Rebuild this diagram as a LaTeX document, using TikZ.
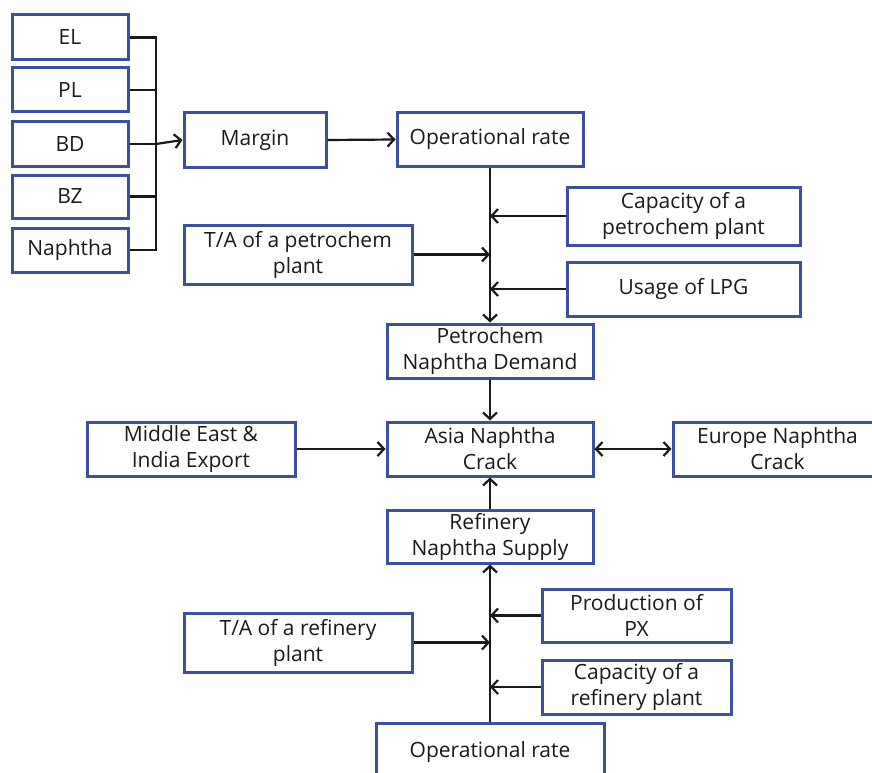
\documentclass[tikz,border=0pt]{standalone}
\usepackage{fontspec}
\setmainfont{Open Sans}
\usetikzlibrary{arrows.meta}
\definecolor{boxblue}{HTML}{3C4FA0}
\definecolor{ink}{HTML}{1A1A1A}
\tikzset{
  box/.style={draw=boxblue, line width=3pt, fill=white, rectangle, inner sep=0pt,
    align=center, text=ink, font=\fontsize{21}{26}\selectfont},
  link/.style={draw=ink, line width=2.2pt, -{Straight Barb[length=6.5pt,width=14pt,line width=2.2pt]}},
  wire/.style={draw=ink, line width=2.2pt},
  both/.style={draw=ink, line width=2.2pt, {Straight Barb[length=6.5pt,width=14pt,line width=2.2pt]}-{Straight Barb[length=6.5pt,width=14pt,line width=2.2pt]}}
}
\begin{document}
\begin{tikzpicture}[x=1pt,y=-1pt]
\useasboundingbox (0,0) rectangle (872,773);
\clip (0,0) rectangle (872,773);
\fill[white] (0,0) rectangle (872,773);

% price inputs
\node[box, minimum width=116pt, minimum height=45pt] (el) at (70,37.5) {EL};
\node[box, minimum width=116pt, minimum height=44pt] (pl) at (70,90) {PL};
\node[box, minimum width=116pt, minimum height=44pt] (bd) at (70,144) {BD};
\node[box, minimum width=116pt, minimum height=43pt] (bz) at (70,196.5) {BZ};
\node[box, minimum width=116pt, minimum height=44pt] (nap) at (70,250) {Naphtha};
\coordinate (bus) at (156,144);

% petrochem side
\node[box, minimum width=142pt, minimum height=54pt] (margin) at (255,140) {Margin};
\node[box, minimum width=186pt, minimum height=53pt] (op1) at (490,139.5) {Operational rate};
\node[box, minimum width=233pt, minimum height=58pt] (cappet) at (683.5,216) {Capacity of a\\petrochem plant};
\node[box, minimum width=228pt, minimum height=59pt] (tapet) at (298,254.5) {T/A of a petrochem\\plant};
\node[box, minimum width=233pt, minimum height=54pt] (lpg) at (683.5,289) {Usage of LPG};
\node[box, minimum width=206pt, minimum height=54pt] (dem) at (490,351) {Petrochem\\Naphtha Demand};

% crack spread row
\node[box, minimum width=208pt, minimum height=54pt] (me) at (191,449) {Middle East \&\\India Export};
\node[box, minimum width=206pt, minimum height=54pt] (asia) at (490,449) {Asia Naphtha\\Crack};
\node[box, minimum width=209pt, minimum height=54pt] (eu) at (777.5,449) {Europe Naphtha\\Crack};

% refinery side
\node[box, minimum width=206pt, minimum height=53pt] (sup) at (490,536.5) {Refinery\\Naphtha Supply};
\node[box, minimum width=189pt, minimum height=53pt] (px) at (636.5,615.5) {Production of\\PX};
\node[box, minimum width=228pt, minimum height=59pt] (taref) at (298,642.5) {T/A of a refinery\\plant};
\node[box, minimum width=189pt, minimum height=54pt] (capref) at (636.5,687) {Capacity of a\\refinery plant};
\node[box, minimum width=228pt, minimum height=58pt] (op2) at (490,752) {Operational rate};

% price bus into margin
\draw[wire] (el.east) -- (el.east -| bus) -- (nap.east -| bus) -- (nap.east);
\foreach \n in {pl,bd,bz} \draw[wire] (\n.east) -- (\n.east -| bus);
\draw[link] (bus) -- (margin.west);
\draw[link] (margin.east) -- (op1.west);

% petrochem demand trunk
\draw[link] (op1.south) -- (dem.north);
\draw[link] (cappet.west) -- (cappet.west -| op1.south);
\draw[link] (tapet.east) -- (tapet.east -| op1.south);
\draw[link] (lpg.west) -- (lpg.west -| op1.south);

% crack spread
\draw[link] (dem.south) -- (asia.north);
\draw[link] (me.east) -- (asia.west);
\draw[both] (asia.east) -- (eu.west);
\draw[link] (sup.north) -- (asia.south);

% refinery supply trunk
\draw[link] (op2.north) -- (sup.south);
\draw[link] (px.west) -- (px.west -| op2.north);
\draw[link] (taref.east) -- (taref.east -| op2.north);
\draw[link] (capref.west) -- (capref.west -| op2.north);
\end{tikzpicture}
\end{document}
